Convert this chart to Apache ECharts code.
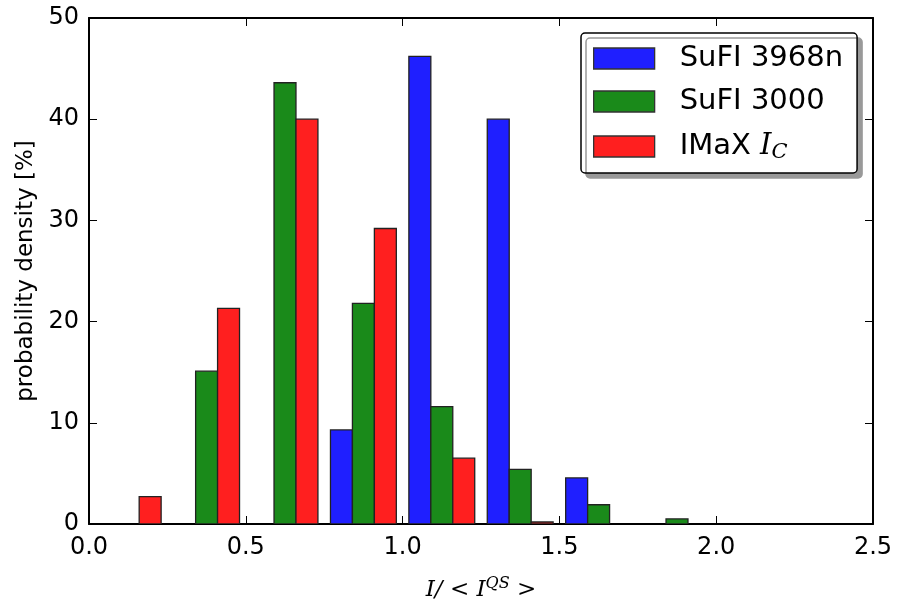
<!DOCTYPE html>
<html>
<head>
<meta charset="utf-8">
<script src="https://cdn.jsdelivr.net/npm/echarts@6/dist/echarts.min.js"></script>
<style>html,body{margin:0;padding:0;background:#fff}#c{width:900px;height:600px}</style>
</head>
<body>
<div id="c"></div>
<script>
// ---- data ----
const binCenters = [0.125, 0.375, 0.625, 0.875, 1.125, 1.375, 1.625, 1.875];
const sufi3968n = [0, 0, 0, 9.3, 46.2, 40.0, 4.55, 0];
const sufi3000  = [0, 15.1, 43.6, 21.8, 11.6, 5.4, 1.9, 0.5];
const imaxIC    = [2.7, 21.3, 40.0, 29.2, 6.5, 0.2, 0, 0];
const seriesNames = ['SuFI 3968n', 'SuFI 3000', 'IMaX'];
const xTicks = [0, 0.5, 1.0, 1.5, 2.0, 2.5];
const yTicks = [0, 10, 20, 30, 40, 50];

// ---- layout / style ----
const BW = 0.07;
const offsets = [-0.07, 0, 0.07];
const colors = ['#1f1fff', '#1a8a1a', '#ff1f1f'];

function render(offset) {
  return function (params, api) {
    const x = api.value(0), y = api.value(1);
    if (!(y > 0)) return null;
    const p0 = api.coord([x + offset - BW / 2, 0]);
    const p1 = api.coord([x + offset + BW / 2, y]);
    return {
      type: 'rect',
      shape: { x: p0[0], y: p1[1], width: p1[0] - p0[0], height: p0[1] - p1[1] },
      style: api.style({ stroke: '#222', lineWidth: 1.3 })
    };
  };
}
const allVals = [sufi3968n, sufi3000, imaxIC];
const series = allVals.map((vals, i) => ({
  type: 'custom',
  name: seriesNames[i],
  renderItem: render(offsets[i]),
  itemStyle: { color: colors[i] },
  encode: { x: 0, y: 1 },
  data: binCenters.map((c, j) => [c, vals[j]]),
  xAxisIndex: 0, yAxisIndex: 0,
  clip: true
}));

const axisFont = { fontFamily: 'DejaVu Sans', fontSize: 24, color: '#000' };
const tickStyle = { show: true, inside: true, length: 8, lineStyle: { color: '#000', width: 1 } };
const lineStyle = { show: true, onZero: false, lineStyle: { color: '#000', width: 2 } };

const chart = echarts.init(document.getElementById('c'), null, { renderer: 'canvas' });
chart.setOption({
  animation: false,
  backgroundColor: '#fff',
  grid: { left: 89, right: 27, top: 18, bottom: 76, containLabel: false, outerBoundsMode: 'none' },
  legend: {
    left: 581, top: 33,
    orient: 'vertical',
    data: seriesNames.map((n, i) => ({ name: n, icon: 'rect', itemStyle: { color: colors[i], borderColor: '#333', borderWidth: 1.3 } })),
    itemWidth: 61, itemHeight: 21, itemGap: 14,
    padding: [11, 14, 10, 12],
    backgroundColor: '#fff',
    borderColor: '#000', borderWidth: 1.5, borderRadius: 4,
    shadowColor: '#999', shadowOffsetX: 5, shadowOffsetY: 5, shadowBlur: 0,
    formatter: function (n) { return n === 'IMaX' ? 'IMaX {i|I}{s|C}' : n; },
    textStyle: {
      fontFamily: 'DejaVu Sans', fontSize: 29, color: '#000', padding: [0, 0, 0, 20], lineHeight: 21,
      rich: {
        i: { fontFamily: 'DejaVu Serif', fontStyle: 'italic', fontSize: 29, color: '#000', lineHeight: 21 },
        s: { fontFamily: 'DejaVu Serif', fontStyle: 'italic', fontSize: 21, color: '#000', lineHeight: 21, padding: [12, 0, 0, 0] }
      }
    }
  },
  xAxis: [{
    type: 'value', min: 0, max: 2.5, interval: 0.5, position: 'bottom',
    axisLine: lineStyle, axisTick: tickStyle, splitLine: { show: false },
    axisLabel: Object.assign({ margin: 12, formatter: v => v.toFixed(1) }, axisFont),
    name: '{a|I/}{r| < }{a|I}{b|QS}{r| >}', nameLocation: 'middle', nameGap: 52,
    nameTextStyle: {
      rich: {
        a: { fontFamily: 'DejaVu Serif', fontStyle: 'italic', fontSize: 23, color: '#000' },
        r: { fontFamily: 'DejaVu Serif', fontSize: 23, color: '#000' },
        b: { fontFamily: 'DejaVu Serif', fontStyle: 'italic', fontSize: 16, color: '#000', padding: [0, 0, 12, 0] }
      }
    }
  }, {
    type: 'value', min: 0, max: 2.5, interval: 0.5, position: 'top',
    axisLine: lineStyle, axisTick: tickStyle, axisLabel: { show: false }, splitLine: { show: false }
  }],
  yAxis: [{
    type: 'value', min: 0, max: 50, interval: 10, position: 'left',
    axisLine: lineStyle, axisTick: tickStyle, splitLine: { show: false },
    axisLabel: Object.assign({ margin: 10 }, axisFont),
    name: 'probability density [%]', nameLocation: 'middle', nameGap: 47, nameRotate: 90,
    nameTextStyle: { fontFamily: 'DejaVu Sans', fontSize: 23, color: '#000' }
  }, {
    type: 'value', min: 0, max: 50, interval: 10, position: 'right',
    axisLine: lineStyle, axisTick: tickStyle, axisLabel: { show: false }, splitLine: { show: false }
  }],
  series: series
});
</script>
</body>
</html>
